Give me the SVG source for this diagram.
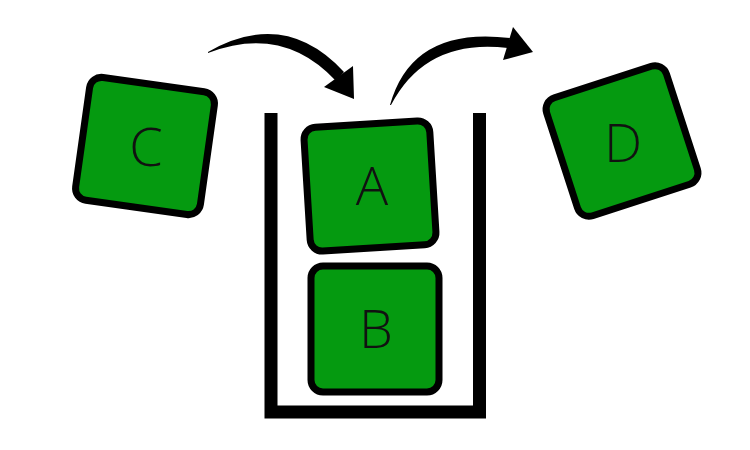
<svg xmlns="http://www.w3.org/2000/svg" width="750" height="450" viewBox="0 0 750 450">
<style>
.box{fill:#059a10;stroke:#000;stroke-width:7}
.lbl{font-family:"Open Sans","Noto Sans",sans-serif;font-size:54px;font-weight:300;fill:#111;text-anchor:middle}
</style>
<rect width="750" height="450" fill="#fff"/>
<g id="container"><path d="M271,113 V412 H479.5 V113" fill="none" stroke="#000" stroke-width="13" stroke-linejoin="miter"/></g>
<g id="C"><rect class="box" x="-63" y="-62" width="126" height="124" rx="12" transform="translate(145,146) rotate(8)"/><text class="lbl" x="146" y="166">C</text></g>
<g id="A"><rect class="box" x="-63" y="-62" width="126" height="124" rx="12" transform="translate(370,186) rotate(-3.5)"/><text class="lbl" x="372" y="205">A</text></g>
<g id="B"><rect class="box" x="-64" y="-63" width="128" height="126" rx="12" transform="translate(375,329)"/><text class="lbl" x="376" y="348">B</text></g>
<g id="D"><rect class="box" x="-63" y="-62" width="126" height="124" rx="12" transform="translate(622,141) rotate(-18)"/><text class="lbl" x="623" y="162">D</text></g>
<g id="connectors" fill="#000">
<path d="M208,52 Q285,8 344,72 L336,81 Q283,24 208,53 Z"/>
<path d="M324,87 L353,66 L354,99 Z"/>
<path d="M390,105 Q412,26 510,38 L508,48 Q426,38 391,105 Z"/>
<path d="M513,27 L533,52 L503,60 Z"/>
</g>
</svg>
